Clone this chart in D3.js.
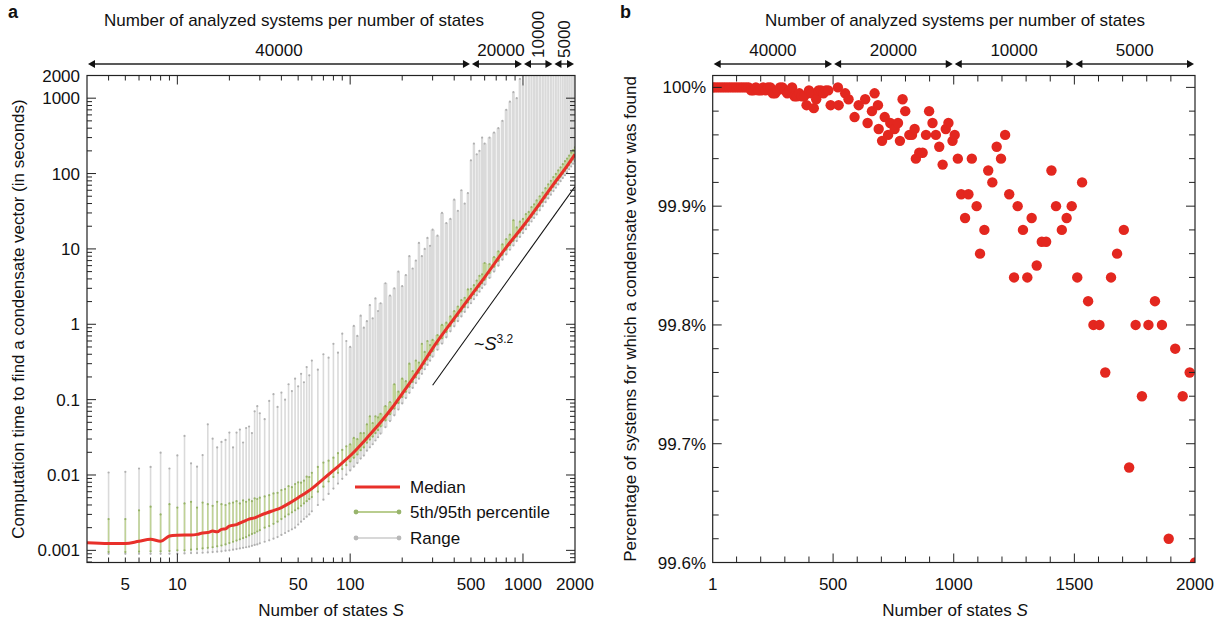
<!DOCTYPE html>
<html>
<head>
<meta charset="utf-8">
<script src="https://cdn.jsdelivr.net/npm/d3@7"></script>
<style>
body { margin: 0; background: #fff; }
text { font-family: "Liberation Sans", Arial, Helvetica, sans-serif; fill: #111; }
</style>
</head>
<body>
<svg id="chart" width="1231" height="626"></svg>
<script>
// ---- panel a: computation time per number of states ----
var barS = [4,5,6,7,8,9,10,11,12,13,14,15,16,17,18,19,20,21,22,23,24,25,26,27,28,29,30,
    32,34,36,38,40,42,44,46,48,50,52,54,56,58,60,
    65,70,75,80,85,90,95,100,105,110,115,120,125,130,135,140,145,150,
    160,170,180,190,200,210,220,230,240,250,260,270,280,290,300,
    320,340,360,380,400,420,440,460,480,500,520,540,560,580,600,
    640,680,720,760,800,840,880,920,960,1000,1040,1080,1120,1160,1200,
    1250,1300,1350,1400,1450,1500,1550,1600,1650,1700,1750,1800,1850,1900,1950,2000]

var barMin = [.0009,.0009,.0009,.0009,.0009,.0009,.0009,.00091,.00092,.00092,.00093,.00094,.00095,.00096,.00097,.00099,.001,.00102,.00104,.00106,.00108,.0011,.00112,.00115,.00118,.0012,.00124,
    .0013,.00136,.00143,.0015,.0016,.0017,.0018,.0019,.002,.0022,.0024,.0026,.0028,.003,.0033,
    .004,.0047,.0056,.0066,.0077,.0089,.0101,.0115,.0129,.0144,.0165,.0181,.021,.0233,.0256,.0287,.0317,.0355,
    .043,.052,.062,.074,.089,.105,.123,.143,.166,.19,.22,.253,.289,.329,.372,
    .459,.554,.672,.807,.94,1.1,1.27,1.46,1.67,1.9,2.15,2.42,2.71,3.02,3.35,
    4.12,5.0,6.0,7.2,8.45,9.75,11.1,12.7,14.4,16.2,18.3,20.6,23.1,25.7,28.6,
    32.5,36.9,41.7,46.8,52.4,58.5,64.8,71.8,79.2,87,95,104,114,124,135,146]

var barP5 = [.00095,.00095,.00096,.00097,.00097,.00098,.001,.001,.00102,.00104,.00106,.00108,.0011,.00113,.00116,.0012,.00125,.0013,.00135,.0014,.00145,.0015,.00158,.00165,.0017,.00178,.00185,
    .002,.0021,.00225,.0024,.0026,.0028,.003,.0032,.0034,.0036,.0039,.0042,.0045,.0048,.0051,
    .006,.007,.0082,.0094,.0107,.012,.0135,.0151,.0169,.0187,.0213,.0232,.0268,.0295,.0323,.0359,.0395,.0442,
    .053,.064,.076,.09,.108,.127,.148,.172,.198,.227,.262,.3,.342,.389,.439,
    .54,.651,.789,.946,1.1,1.29,1.48,1.7,1.95,2.22,2.51,2.81,3.15,3.51,3.89,
    4.77,5.79,6.95,8.35,9.75,11.2,12.8,14.6,16.5,18.6,21,23.6,26.5,29.5,32.7,
    37.2,42.2,47.7,53.6,60,67,74.2,82.2,90.7,99.5,109,119,130,142,154,167]

var barP95 = [.0026,.0026,.0034,.0038,.003,.0041,.0037,.0042,.0044,.0037,.0043,.0041,.0039,.0044,.0041,.004,.0042,.0043,.0045,.0042,.0046,.0044,.0047,.0045,.0049,.0048,.005,
    .0052,.0054,.0057,.0058,.0063,.0065,.0071,.0069,.0076,.008,.0079,.0084,.0095,.0094,.0107,
    .0128,.0146,.0155,.017,.0195,.0215,.024,.0255,.031,.03,.036,.036,.047,.06,.049,.06,.058,.065,
    .082,.093,.16,.128,.19,.176,.3,.24,.33,.31,.55,.43,.6,.53,.62,
    .72,.98,1.05,1.27,1.5,1.72,2.1,2.25,2.9,2.95,3.3,3.8,4.4,4.6,6.5,
    6.3,7.8,9.3,11.5,13.5,15.5,24,19.3,23,25,29,31,36,39,44,
    50,56,64,72,80,90,99,110,121,133,146,158,173,189,205,222]

var barMax = [.0108,.011,.0122,.0128,.0198,.0122,.0182,.033,.0143,.0129,.0184,.047,.0303,.0232,.0275,.0292,.0365,.0232,.0365,.04,.027,.042,.044,.036,.07,.082,.066,
    .055,.096,.118,.08,.124,.1,.16,.13,.19,.15,.22,.17,.27,.21,.33,
    .25,.4,.36,.55,.42,.75,.6,.5,.95,.7,1.3,.9,1.1,1.8,1.2,2.2,1.5,1.9,
    3.5,2.4,3,5,3.2,4.5,8,5.5,7,12,8,10,14,11,18,
    15,30,22,25,45,32,60,40,55,150,250,180,200,300,250,
    300,350,400,500,700,900,1200,1000,1800,1500,3000,2500,3000,3000,3000,
    3000,3000,3000,3000,3000,3000,3000,3000,3000,3000,3000,3000,3000,3000,3000,3000]

var medS = [3,4,5,6,7,8,9,10,11,12,13,14,15,16,17,18,19,20,22,24,26,28,30,35,40,45,50,60,70,80,90,100,125,150,175,200,250,300,400,500,600,800,1000,1250,1500,1750,2000]
var medT = [.00126,.00123,.00123,.00132,.0014,.00132,.00155,.00159,.0016,.0016,.00163,.0017,.00172,.0018,.00176,.0019,.00193,.0021,.0022,.0024,.0026,.0027,.0029,.0033,.0037,.0043,.005,.0066,.0089,.0115,.0145,.018,.031,.05,.078,.12,.25,.48,1.2,2.4,4.2,10.5,20,40,72,115,180]

var guideS = [300, 2000]
var guideT = [0.155, 67]

var xTicksA = [5, 10, 50, 100, 500, 1000, 2000]
var yTicksA = [0.001, 0.01, 0.1, 1, 10, 100, 1000, 2000]

// systems analysed per range of S (shared by both panels)
var groupCounts = ["40000", "20000", "10000", "5000"]
var groupEdges = [500, 1000, 1500]

// ---- panel b: success percentage ----
var succS = [1,10,20,30,40,50,60,70,80,90,100,110,120,130,140,150,160,170,180,190,200,210,220,230,240,250,260,270,280,290,300,310,320,330,340,350,360,370,380,390,400,410,420,430,440,450,460,470,480,490,
    520,523,550,564,589,606,633,643,661,672,686,689,703,714,728,737,755,769,777,788,799,816,827,838,843,857,871,885,898,912,926,940,954,967,978,995,
    1004,1017,1031,1047,1061,1075,1095,1109,1127,1143,1160,1178,1196,1213,1230,1250,1265,1287,1305,1323,1344,1365,1383,1405,1424,1448,1468,1489,
    1512,1532,1557,1579,1604,1628,1652,1677,1705,1727,1754,1780,1807,1834,1863,1891,1918,1949,1978,2000]
var succPct = [100,100,100,100,100,100,100,100,100,100,100,100,100,100,100,100,99.9975,99.9975,100,99.9975,99.9975,100,99.9975,100,100,99.995,99.995,99.9975,100,100,99.9975,99.995,99.9975,100,99.9925,99.9925,99.995,99.9925,99.9925,99.985,99.9975,99.995,99.9825,99.99,99.9975,99.9975,99.995,99.9975,99.9975,99.985,
    100,99.985,99.995,99.99,99.975,99.985,99.99,99.97,99.98,99.995,99.985,99.965,99.955,99.975,99.96,99.97,99.965,99.97,99.955,99.99,99.98,99.96,99.96,99.965,99.94,99.945,99.945,99.96,99.98,99.97,99.96,99.95,99.935,99.965,99.97,99.955,
    99.96,99.94,99.91,99.89,99.91,99.94,99.90,99.86,99.88,99.93,99.92,99.95,99.94,99.96,99.91,99.84,99.90,99.88,99.84,99.89,99.85,99.87,99.87,99.93,99.90,99.88,99.89,99.90,
    99.84,99.92,99.82,99.80,99.80,99.76,99.84,99.86,99.88,99.68,99.80,99.74,99.80,99.82,99.80,99.62,99.78,99.74,99.76,99.60]

var xTicksB = [1, 500, 1000, 1500, 2000]
var yTicksB = [99.6, 99.7, 99.8, 99.9, 100]

// ---------------------------------------------------------------
var svg = d3.select("#chart")
var FS = 17
var A = {x0: 87, x1: 575, y0: 75.5, y1: 562.5}
var B = {x0: 712.7, x1: 1195, y0: 75.5, y1: 562.5}

var xA = d3.scaleLog().domain([3, 2000]).range([A.x0, A.x1])
var yA = d3.scaleLog().domain([0.00069, 2000]).range([A.y1, A.y0])
var xB = d3.scaleLinear().domain([1, 2000]).range([B.x0, B.x1])
var yB = d3.scaleLinear().domain([99.6, 100.01]).range([B.y1, B.y0])

var defs = svg.append("defs")
function clip(id, P)
{
    defs.append("clipPath").attr("id", id).append("rect")
        .attr("x", P.x0).attr("y", P.y0).attr("width", P.x1 - P.x0).attr("height", P.y1 - P.y0)
}
clip("clipA", A)
clip("clipB", B)

function drawTicks(g, list)
{
    g.selectAll(null).data(list).enter().append("line")
        .attr("x1", d => d[0]).attr("y1", d => d[1])
        .attr("x2", d => d[2]).attr("y2", d => d[3])
        .attr("stroke", "#222").attr("stroke-width", 1)
}

function arrow(g, xa, xb, y)
{
    var h = 7, w = 4
    g.append("line").attr("x1", xa + 2).attr("x2", xb - 2).attr("y1", y).attr("y2", y)
        .attr("stroke", "#222").attr("stroke-width", 1.4)
    g.append("path").attr("d", "M" + xa + "," + y + "l" + h + "," + (-w) + "l0," + (2 * w) + "z").attr("fill", "#111")
    g.append("path").attr("d", "M" + xb + "," + y + "l" + (-h) + "," + (-w) + "l0," + (2 * w) + "z").attr("fill", "#111")
}

// bar width follows the local spacing for larger S, so the range band fills in like the original
function barWidth(d, i)
{
    var j = i < barS.length - 1 ? i + 1 : i - 1
    var gap = Math.abs(xA(barS[j]) - xA(d))
    return d >= 100 ? Math.max(1.9, gap * 0.85) : 1.6
}

// ================= panel a =================
var gA = svg.append("g")
var plotA = gA.append("g").attr("clip-path", "url(#clipA)")

// range bars
plotA.selectAll("line.rng").data(barS).enter().append("line")
    .attr("class", "rng")
    .attr("x1", d => xA(d)).attr("x2", d => xA(d))
    .attr("y1", (d, i) => yA(barMin[i])).attr("y2", (d, i) => yA(barMax[i]))
    .attr("stroke", "#dadada").attr("stroke-width", barWidth)
plotA.selectAll("circle.rmax").data(barS).enter().append("circle")
    .attr("cx", d => xA(d)).attr("cy", (d, i) => yA(barMax[i])).attr("r", 1.1).attr("fill", "#b0b0b0")
plotA.selectAll("circle.rmin").data(barS).enter().append("circle")
    .attr("cx", d => xA(d)).attr("cy", (d, i) => yA(barMin[i])).attr("r", 1.1).attr("fill", "#b0b0b0")

// percentile bars
plotA.selectAll("line.pct").data(barS).enter().append("line")
    .attr("class", "pct")
    .attr("x1", d => xA(d)).attr("x2", d => xA(d))
    .attr("y1", (d, i) => yA(barP5[i])).attr("y2", (d, i) => yA(barP95[i]))
    .attr("stroke", "#bfd296").attr("stroke-width", barWidth)
plotA.selectAll("circle.p95").data(barS).enter().append("circle")
    .attr("cx", d => xA(d)).attr("cy", (d, i) => yA(barP95[i])).attr("r", 1.1).attr("fill", "#95b266")
plotA.selectAll("circle.p5").data(barS).enter().append("circle")
    .attr("cx", d => xA(d)).attr("cy", (d, i) => yA(barP5[i])).attr("r", 1.1).attr("fill", "#95b266")

// median
var medLine = d3.line().x(d => xA(d[0])).y(d => yA(d[1])).curve(d3.curveMonotoneX)
plotA.append("path").datum(medS.map((s, i) => [s, medT[i]]))
    .attr("d", medLine).attr("fill", "none").attr("stroke", "#e8302a").attr("stroke-width", 3)

// S^3.2 guide
plotA.append("line")
    .attr("x1", xA(guideS[0])).attr("y1", yA(guideT[0]))
    .attr("x2", xA(guideS[1])).attr("y2", yA(guideT[1]))
    .attr("stroke", "#111").attr("stroke-width", 1.1)
var ann = gA.append("text").attr("x", 474).attr("y", 350).attr("font-size", FS + 1)
ann.append("tspan").text("~")
ann.append("tspan").attr("font-style", "italic").text("S")
ann.append("tspan").attr("font-size", 12).attr("dy", -7).text("3.2")

// frame
gA.append("rect").attr("x", A.x0).attr("y", A.y0).attr("width", A.x1 - A.x0).attr("height", A.y1 - A.y0)
    .attr("fill", "none").attr("stroke", "#222").attr("stroke-width", 1.2)

// ticks panel a
var tA = []
for (var e = -4; e <= 3; e++)
{
    for (var m = 1; m <= 9; m++)
    {
        var v = m * Math.pow(10, e)
        if (v < 0.00069 || v > 2000) continue
        var len = m == 1 ? 9 : 5
        var y = yA(v)
        tA.push([A.x0, y, A.x0 + len, y])
        tA.push([A.x1, y, A.x1 - len, y])
    }
}
for (var e = 0; e <= 3; e++)
{
    for (var m = 1; m <= 9; m++)
    {
        var v = m * Math.pow(10, e)
        if (v <= 3 || v >= 2000) continue
        var len = m == 1 ? 9 : 5
        var x = xA(v)
        tA.push([x, A.y1, x, A.y1 - len])
        tA.push([x, A.y0, x, A.y0 + len])
    }
}
drawTicks(gA, tA)

gA.selectAll("text.yt").data(yTicksA).enter().append("text")
    .attr("x", 80).attr("y", d => yA(d) + 6).attr("text-anchor", "end").attr("font-size", FS)
    .text(d => d3.format("~g")(d))
gA.selectAll("text.xt").data(xTicksA).enter().append("text")
    .attr("x", d => xA(d)).attr("y", 590).attr("text-anchor", "middle").attr("font-size", FS)
    .text(d => d)

var xlabA = gA.append("text").attr("x", 331).attr("y", 616).attr("text-anchor", "middle").attr("font-size", FS)
xlabA.append("tspan").text("Number of states ")
xlabA.append("tspan").attr("font-style", "italic").text("S")

gA.append("text").attr("transform", "translate(24,319) rotate(-90)").attr("text-anchor", "middle")
    .attr("font-size", FS).text("Computation time to find a condensate vector (in seconds)")

// legend
var lg = gA.append("g")
var legendItems = [
    {label: "Median", color: "#e8302a", dot: null, w: 3, y: 487},
    {label: "5th/95th percentile", color: "#b9cd8f", dot: "#98b46c", w: 2.2, y: 512},
    {label: "Range", color: "#d8d8d8", dot: "#b8b8b8", w: 2.2, y: 538}
]
legendItems.forEach(function(it)
{
    lg.append("line").attr("x1", 355).attr("x2", 400).attr("y1", it.y).attr("y2", it.y)
        .attr("stroke", it.color).attr("stroke-width", it.w)
    if (it.dot)
    {
        lg.append("circle").attr("cx", 356).attr("cy", it.y).attr("r", 2.4).attr("fill", it.dot)
        lg.append("circle").attr("cx", 399).attr("cy", it.y).attr("r", 2.4).attr("fill", it.dot)
    }
    lg.append("text").attr("x", 410).attr("y", it.y + 6).attr("font-size", FS).text(it.label)
})

// top annotation a
gA.append("text").attr("x", 294).attr("y", 26).attr("text-anchor", "middle").attr("font-size", FS)
    .text("Number of analyzed systems per number of states")
var edgesA = [A.x0].concat(groupEdges.map(d => xA(d))).concat([A.x1])
for (var k = 0; k < 4; k++)
{
    arrow(gA, edgesA[k] + 1, edgesA[k + 1] - 1, 64)
    var cx = (edgesA[k] + edgesA[k + 1]) / 2
    if (k < 2)
    {
        gA.append("text").attr("x", k == 1 ? cx + 4 : cx).attr("y", 56).attr("text-anchor", "middle")
            .attr("font-size", FS).text(groupCounts[k])
    }
    else
    {
        gA.append("text").attr("transform", "translate(" + (cx + 6) + ",58) rotate(-90)")
            .attr("font-size", FS).text(groupCounts[k])
    }
}
gA.append("text").attr("x", 8).attr("y", 18).attr("font-size", 18).attr("font-weight", "bold").text("a")

// ================= panel b =================
var gB = svg.append("g")
var plotB = gB.append("g").attr("clip-path", "url(#clipB)")
plotB.selectAll("circle").data(succS).enter().append("circle")
    .attr("cx", d => xB(d)).attr("cy", (d, i) => yB(succPct[i])).attr("r", 5.2).attr("fill", "#e3271f")

gB.append("rect").attr("x", B.x0).attr("y", B.y0).attr("width", B.x1 - B.x0).attr("height", B.y1 - B.y0)
    .attr("fill", "none").attr("stroke", "#222").attr("stroke-width", 1.2)

var tB = []
for (var s = 100; s < 2000; s += 100)
{
    var len = s % 500 == 0 ? 9 : 6
    tB.push([xB(s), B.y1, xB(s), B.y1 - len])
    tB.push([xB(s), B.y0, xB(s), B.y0 + len])
}
for (var q = 1; q <= 20; q++)
{
    var v = 99.6 + q * 0.02
    var len = q % 5 == 0 ? 9 : 6
    tB.push([B.x0, yB(v), B.x0 + len, yB(v)])
    tB.push([B.x1, yB(v), B.x1 - len, yB(v)])
}
drawTicks(gB, tB)

gB.selectAll("text.yt").data(yTicksB).enter().append("text")
    .attr("x", 706).attr("y", d => yB(d) + 6).attr("text-anchor", "end").attr("font-size", FS)
    .text(d => (d == 100 ? "100" : d.toFixed(1)) + "%")
gB.selectAll("text.xt").data(xTicksB).enter().append("text")
    .attr("x", d => xB(d)).attr("y", 590).attr("text-anchor", "middle").attr("font-size", FS)
    .text(d => d)

var xlabB = gB.append("text").attr("x", 955).attr("y", 616).attr("text-anchor", "middle").attr("font-size", FS)
xlabB.append("tspan").text("Number of states ")
xlabB.append("tspan").attr("font-style", "italic").text("S")

gB.append("text").attr("transform", "translate(636,319) rotate(-90)").attr("text-anchor", "middle")
    .attr("font-size", FS).text("Percentage of systems for which a condensate vector was found")

gB.append("text").attr("x", 955).attr("y", 26).attr("text-anchor", "middle").attr("font-size", FS)
    .text("Number of analyzed systems per number of states")
var edgesB = [B.x0].concat(groupEdges.map(d => xB(d))).concat([B.x1])
for (var k = 0; k < 4; k++)
{
    arrow(gB, edgesB[k] + 1, edgesB[k + 1] - 1, 64)
    gB.append("text").attr("x", (edgesB[k] + edgesB[k + 1]) / 2).attr("y", 56).attr("text-anchor", "middle")
        .attr("font-size", FS).text(groupCounts[k])
}
gB.append("text").attr("x", 620).attr("y", 18).attr("font-size", 18).attr("font-weight", "bold").text("b")
</script>
</body>
</html>
